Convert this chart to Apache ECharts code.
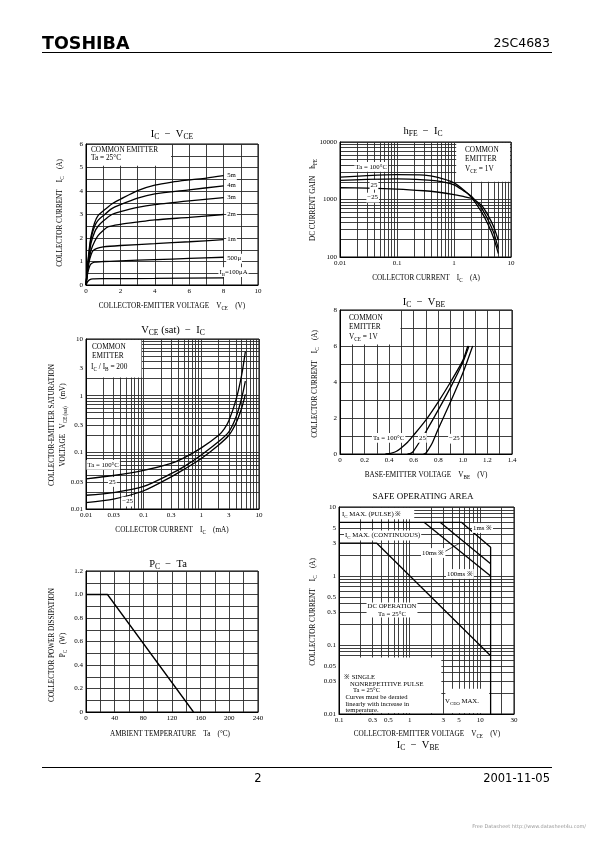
<!DOCTYPE html>
<html><head><meta charset="utf-8">
<script src="https://cdn.jsdelivr.net/npm/echarts@6/dist/echarts.min.js"></script>
<style>html,body{margin:0;padding:0;background:#fff}#c{width:595px;height:842px}</style>
</head><body><div id="c"></div>
<script>
// ---------- DATA ----------
// Chart 1: IC - VCE  ([VCE (V), IC (A)])
const icVce_5m   = [[0,0],[0.1,0.9],[0.2,1.6],[0.3,2.1],[0.5,2.65],[0.7,2.95],[1,3.15],[1.5,3.45],[2,3.65],[3,4.02],[4,4.25],[5,4.38],[6,4.47],[7,4.55],[8,4.65]];
const icVce_4m   = [[0,0],[0.1,0.85],[0.2,1.5],[0.3,2.0],[0.5,2.5],[0.7,2.75],[1,2.95],[1.5,3.25],[2,3.42],[3,3.7],[4,3.88],[6,4.05],[8,4.22]];
const icVce_3m   = [[0,0],[0.1,0.8],[0.2,1.35],[0.3,1.8],[0.5,2.25],[0.7,2.5],[1,2.72],[1.5,3.0],[2,3.12],[3,3.3],[4,3.42],[6,3.58],[8,3.72]];
const icVce_2m   = [[0,0],[0.1,0.7],[0.2,1.15],[0.3,1.5],[0.5,1.85],[0.7,2.1],[1,2.32],[1.3,2.48],[2,2.58],[3,2.68],[4,2.77],[6,2.88],[8,3.0]];
const icVce_1m   = [[0,0],[0.1,0.65],[0.2,1.05],[0.3,1.3],[0.4,1.45],[0.6,1.55],[1,1.62],[2,1.68],[4,1.76],[6,1.84],[8,1.93]];
const icVce_500u = [[0,0],[0.1,0.5],[0.2,0.78],[0.3,0.9],[0.5,0.97],[1,1.0],[2,1.03],[4,1.08],[6,1.13],[8,1.18]];
const icVce_100u = [[0,0],[0.05,0.08],[0.1,0.15],[0.2,0.22],[0.4,0.26],[1,0.27],[4,0.28],[8,0.3]];
const icVceLabels = ['5m','4m','3m','2m','1m','500μ','I{s|B}=100μA'];

// Chart 2: hFE - IC  ([IC (A), hFE])
const hfe_100 = [[0.01,2450],[0.03,2600],[0.1,2700],[0.3,2650],[0.5,2450],[1,1950],[1.5,1450],[2,1100],[3,620],[4,360],[5,210],[6,115]];
const hfe_25  = [[0.01,2150],[0.03,2230],[0.1,2280],[0.3,2200],[0.5,2100],[1,1800],[1.5,1400],[2,1150],[3,720],[4,430],[5,260],[6,140]];
const hfe_m25 = [[0.01,1600],[0.03,1580],[0.1,1520],[0.3,1420],[0.5,1350],[1,1220],[1.5,1120],[2,1050],[3,800],[4,520],[5,330],[6,195]];

// Chart 3: VCE(sat) - IC
const vsat_100 = [[0.01,0.034],[0.03,0.039],[0.1,0.048],[0.3,0.064],[0.5,0.08],[1,0.12],[2,0.2],[2.5,0.26],[3,0.36],[4,0.85],[5,2.3],[5.8,6.0]];
const vsat_25  = [[0.01,0.0175],[0.03,0.0195],[0.1,0.025],[0.3,0.042],[0.5,0.056],[1,0.09],[2,0.155],[3,0.23],[4,0.42],[5,0.9],[5.8,1.8]];
const vsat_m25 = [[0.01,0.013],[0.03,0.015],[0.1,0.021],[0.3,0.037],[0.5,0.05],[1,0.078],[2,0.135],[3,0.2],[4,0.33],[5,0.6],[5.8,1.05]];

// Chart 4: IC - VBE ([VBE (V), IC (A)])
const vbe_100 = [[0.37,0],[0.42,0.05],[0.46,0.15],[0.5,0.35],[0.55,0.65],[0.6,1.05],[0.7,1.9],[0.8,2.9],[0.9,4.0],[1.0,5.2],[1.04,6.0]];
const vbe_25  = [[0.55,0],[0.58,0.05],[0.6,0.18],[0.65,0.7],[0.7,1.25],[0.8,2.45],[0.9,3.7],[1.0,5.1],[1.05,6.0]];
const vbe_m25 = [[0.68,0],[0.7,0.06],[0.72,0.25],[0.75,0.6],[0.8,1.4],[0.9,2.9],[1.0,4.5],[1.08,6.0]];

// Chart 5: Safe operating area ([VCE (V), IC (A)])
const soa_1ms   = [[0.1,6],[5.4,6],[14,2.6],[14,0.01]];
const soa_10ms  = [[2.7,6],[14,1.5]];
const soa_100ms = [[1.6,6],[14,1.0]];
const soa_dc    = [[0.1,3],[0.34,3],[14,0.07]];

// Chart 6: PC - Ta ([Ta (°C), PC (W)])
const pc_ta = [[0,1.0],[30,1.0],[150,0]];

// Tick labels
const t1x = [0,2,4,6,8,10], t1y = [0,1,2,3,4,5,6];
const t2x = [0.01,0.1,1,10], t2y = [100,1000,10000];
const t3x = [0.01,0.03,0.1,0.3,1,3,10], t3y = [0.01,0.03,0.1,0.3,1,3,10];
const t4x = [0,0.2,0.4,0.6,0.8,1.0,1.2,1.4], t4y = [0,2,4,6,8];
const t5x = [0.1,0.3,0.5,1,3,5,10,30], t5y = [0.01,0.03,0.05,0.1,0.3,0.5,1,3,5,10];
const t6x = [0,40,80,120,160,200,240], t6y = [0,0.2,0.4,0.6,0.8,1.0,1.2];

// ---------- helpers ----------
const SERIF = '"Liberation Serif","DejaVu Serif",serif';
function linGrid(lo, hi, step){ const o=[]; const n=Math.round((hi-lo)/step); for(let i=0;i<=n;i++) o.push(+(lo+i*step).toFixed(4)); return o; }
function logGrid(lo, hi){ const o=[]; for(let e=-3;e<=5;e++) for(let m=1;m<=9;m++){ const v=+(m*Math.pow(10,e)).toPrecision(3); if(v>=lo*0.999 && v<=hi*1.001) o.push(v);} return o; }
const fmtNum = v => String(+(+v).toPrecision(4));
const fmt1 = v => (+v===0 ? '0' : (+v).toFixed(1));

function ax(gi, type, min, max, gridVals, labelVals, fmt){
  const a = {
    gridIndex: gi, type, min, max,
    axisLine: {show:true, onZero:false, lineStyle:{color:'#000', width:1}},
    axisTick: {show:false, customValues: gridVals},
    splitLine: {show:true, lineStyle:{color:'#2a2a2a', width:0.9}},
    axisLabel: {customValues: labelVals, formatter: fmt || fmtNum, fontSize: 7, fontFamily: SERIF, color:'#000', margin: 3, hideOverlap:false}
  };
  if (type === 'log') a.logBase = 10;
  return a;
}
function ln(gi, data, smooth){
  return {type:'line', xAxisIndex: gi, yAxisIndex: gi, data, symbol:'none', smooth: smooth ? 0.25 : false,
    lineStyle:{color:'#000', width:1.3}, z: 3, silent:true};
}

const chart = echarts.init(document.getElementById('c'), null, {renderer:'canvas', width:595, height:842});
const gbase = {show:true, borderColor:'#000', borderWidth:1, backgroundColor:'#fff'};
chart.setOption({
  animation:false,
  backgroundColor:'#fff',
  grid: [
    Object.assign({left:86, top:144, width:172, height:141}, gbase),
    Object.assign({left:340, top:142, width:171, height:115}, gbase),
    Object.assign({left:86, top:339, width:173, height:170}, gbase),
    Object.assign({left:340, top:310, width:172, height:144}, gbase),
    Object.assign({left:339, top:507, width:175, height:207}, gbase),
    Object.assign({left:86, top:571, width:172, height:141}, gbase)
  ],
  xAxis: [
    ax(0,'value',0,10,linGrid(0,10,1),t1x),
    ax(1,'log',0.01,10,logGrid(0.01,10),t2x),
    ax(2,'log',0.01,10,logGrid(0.01,10),t3x),
    ax(3,'value',0,1.4,linGrid(0,1.4,0.1),t4x,fmt1),
    ax(4,'log',0.1,30,logGrid(0.1,30),t5x),
    ax(5,'value',0,240,linGrid(0,240,20),t6x)
  ],
  yAxis: [
    ax(0,'value',0,6,linGrid(0,6,0.5),t1y),
    ax(1,'log',100,10000,logGrid(100,10000),t2y),
    ax(2,'log',0.01,10,logGrid(0.01,10),t3y),
    ax(3,'value',0,8,linGrid(0,8,1),t4y),
    ax(4,'log',0.01,10,logGrid(0.01,10),t5y),
    ax(5,'value',0,1.2,linGrid(0,1.2,0.1),t6y,fmt1)
  ],
  series: [
    ln(0,icVce_5m,1), ln(0,icVce_4m,1), ln(0,icVce_3m,1), ln(0,icVce_2m,1), ln(0,icVce_1m,1), ln(0,icVce_500u,1), ln(0,icVce_100u,1),
    ln(1,hfe_100,1), ln(1,hfe_25,1), ln(1,hfe_m25,1),
    ln(2,vsat_100,1), ln(2,vsat_25,1), ln(2,vsat_m25,1),
    ln(3,vbe_100,1), ln(3,vbe_25,1), ln(3,vbe_m25,1),
    ln(4,soa_1ms,0), ln(4,soa_10ms,0), ln(4,soa_100ms,0), ln(4,soa_dc,0),
    ln(5,pc_ta,0)
  ]
});

// ---------- annotations ----------
const P = (gi, x, y) => chart.convertToPixel({xAxisIndex: gi, yAxisIndex: gi}, [x, y]);
const G = [];
function T(x, y, text, o){
  o = o || {};
  const fs = o.fs || 7.3;
  const st = {text, fontSize: fs, fontFamily: o.ff || SERIF, fontWeight: o.fw || 'normal', fill: o.color || '#000',
    align: o.align || 'left', verticalAlign: o.va || 'middle', lineHeight: o.lh || fs + 3,
    rich: {s: {fontSize: Math.round(fs*0.72*10)/10, fontFamily: o.ff || SERIF, verticalAlign:'bottom', lineHeight: o.lh || fs + 3, fill: o.color || '#000'}}};
  if (o.bg) { st.backgroundColor = '#fff'; st.padding = o.pad || [0,1]; }
  G.push({type:'text', x, y, rotation: o.rot || 0, z: 20, silent:true, style: st});
}
function box(gi, x0, y0, x1, y1){
  const a = P(gi, x0, y0), b = P(gi, x1, y1);
  const l = Math.min(a[0],b[0]), r = Math.max(a[0],b[0]), t = Math.min(a[1],b[1]), bt = Math.max(a[1],b[1]);
  G.push({type:'rect', z: 1, silent:true, shape:{x:l+1, y:t+1, width:r-l-2, height:bt-t-2}, style:{fill:'#fff'}});
}
function TD(gi, x, y, text, o){ const p = P(gi, x, y); T(p[0], p[1], text, o); }

// header / footer
T(42, 44, 'TOSHIBA', {ff:'"DejaVu Sans",sans-serif', fw:'bold', fs:17.5});
T(550, 44, '2SC4683', {ff:'"DejaVu Sans",sans-serif', fs:12.5, align:'right'});
G.push({type:'line', z:5, shape:{x1:42, y1:52.5, x2:552, y2:52.5}, style:{stroke:'#000', lineWidth:1}});
G.push({type:'line', z:5, shape:{x1:42, y1:767.5, x2:552, y2:767.5}, style:{stroke:'#000', lineWidth:1}});
T(258, 779, '2', {ff:'"DejaVu Sans",sans-serif', fs:11.5, align:'center'});
T(550, 779, '2001-11-05', {ff:'"DejaVu Sans",sans-serif', fs:11.5, align:'right'});
T(586, 827, 'Free Datasheet http://www.datasheet4u.com/', {ff:'"DejaVu Sans",sans-serif', fs:5, align:'right', color:'#999'});

// titles
T(172, 134, 'I{s|C}  −  V{s|CE}', {fs:10.5, align:'center'});
T(423, 131, 'h{s|FE}  −  I{s|C}', {fs:10.5, align:'center'});
T(173, 330, 'V{s|CE} (sat)  −  I{s|C}', {fs:10.5, align:'center'});
T(424, 302, 'I{s|C}  −  V{s|BE}', {fs:10.5, align:'center'});
T(423, 497, 'SAFE OPERATING AREA', {fs:9, align:'center'});
T(168, 564, 'P{s|C}  −  Ta', {fs:10.5, align:'center'});
T(418, 745, 'I{s|C}  −  V{s|BE}', {fs:10.5, align:'center'});

// x-axis names
const AN = 7.2;
T(172, 306, 'COLLECTOR-EMITTER VOLTAGE    V{s|CE}    (V)', {fs:AN, align:'center'});
T(426, 278, 'COLLECTOR CURRENT    I{s|C}    (A)', {fs:AN, align:'center'});
T(172, 530, 'COLLECTOR CURRENT    I{s|C}    (mA)', {fs:AN, align:'center'});
T(426, 475, 'BASE-EMITTER VOLTAGE    V{s|BE}    (V)', {fs:AN, align:'center'});
T(427, 734, 'COLLECTOR-EMITTER VOLTAGE    V{s|CE}    (V)', {fs:AN, align:'center'});
T(170, 734, 'AMBIENT TEMPERATURE    Ta    (°C)', {fs:AN, align:'center'});

// y-axis names (rotated)
const R = Math.PI/2;
T(60, 213, 'COLLECTOR CURRENT    I{s|C}    (A)', {fs:AN, align:'center', rot:R});
T(313, 200, 'DC CURRENT GAIN    h{s|FE}', {fs:AN, align:'center', rot:R});
T(57.5, 425, 'COLLECTOR-EMITTER SATURATION\nVOLTAGE   V{s|CE (sat)}    (mV)', {fs:AN, align:'center', rot:R, lh:11});
T(315, 384, 'COLLECTOR CURRENT    I{s|C}    (A)', {fs:AN, align:'center', rot:R});
T(313, 612, 'COLLECTOR CURRENT    I{s|C}    (A)', {fs:AN, align:'center', rot:R});
T(57.5, 645, 'COLLECTOR POWER DISSIPATION\nP{s|C}   (W)', {fs:AN, align:'center', rot:R, lh:11});

// legend boxes
box(0, 0, 6, 5, 5.03);
T(91, 150, 'COMMON EMITTER'); T(91, 158.5, 'Ta = 25°C');
box(1, 1.05, 10000, 10, 1950);
T(465, 150, 'COMMON'); T(465, 159.5, 'EMITTER'); T(465, 169, 'V{s|CE} = 1V');
box(2, 0.01, 10, 0.095, 2);
T(92, 347, 'COMMON'); T(92, 356.5, 'EMITTER'); T(91, 367, 'I{s|C} / I{s|B} = 200');
box(3, 0, 8, 0.5, 6.03);
T(349, 318, 'COMMON'); T(349, 327.5, 'EMITTER'); T(349, 337, 'V{s|CE} = 1V');

// chart 1 curve labels
const c1y = [4.68, 4.24, 3.74, 3.02, 1.95, 1.12, 0.55];
icVceLabels.forEach((s,i) => TD(0, i===6 ? 7.7 : 8.15, c1y[i], s, {fs:6.8, bg:true}));
// chart 2 labels
TD(1, 0.018, 3700, 'Ta = 100°C', {fs:6.8, bg:true});
TD(1, 0.033, 1800, '25', {fs:6.8, bg:true});
TD(1, 0.029, 1080, '−25', {fs:6.8, bg:true});
// chart 3 labels
TD(2, 0.0102, 0.06, 'Ta = 100°C', {fs:6.8, bg:true});
TD(2, 0.024, 0.03, '25', {fs:6.8, bg:true});
TD(2, 0.041, 0.0135, '−25', {fs:6.8, bg:true});
// chart 4 labels
TD(3, 0.26, 0.9, 'Ta = 100°C', {fs:6.8, bg:true});
TD(3, 0.635, 0.9, '25', {fs:6.8, bg:true});
TD(3, 0.88, 0.85, '−25', {fs:6.8, bg:true});

// chart 5 SOA annotations
box(4, 0.1, 10, 1.2, 6.4);
box(4, 0.1, 0.068, 2.9, 0.01);
box(4, 3.1, 0.024, 13.8, 0.01);
T(342, 514, 'I{s|C} MAX. (PULSE) ※', {fs:6.8});
T(344, 535.5, 'I{s|C} MAX. (CONTINUOUS)', {fs:6.8, bg:true});
T(472, 528, '1ms ※', {fs:6.8, bg:true});
T(421, 553, '10ms ※', {fs:6.8, bg:true});
G.push({type:'line', z:5, shape:{x1:444, y1:552, x2:460, y2:543}, style:{stroke:'#000', lineWidth:0.7}});
T(446, 574, '100ms ※', {fs:6.8, bg:true});
T(392, 610, 'DC OPERATION\nTa = 25°C', {fs:6.8, bg:true, align:'center', lh:7.5});
T(344, 677, '※ SINGLE', {fs:6.6});
T(350, 684, 'NONREPETITIVE PULSE', {fs:6.6});
T(353, 690.5, 'Ta = 25°C', {fs:6.6});
T(345.5, 697.5, 'Curves must be derated', {fs:6.6});
T(345.5, 704, 'linearly with increase in', {fs:6.6});
T(345.5, 710.5, 'temperature.', {fs:6.6});
T(445, 701, 'V{s|CEO} MAX.', {fs:6.8});

chart.setOption({graphic: {elements: G}});
</script></body></html>
